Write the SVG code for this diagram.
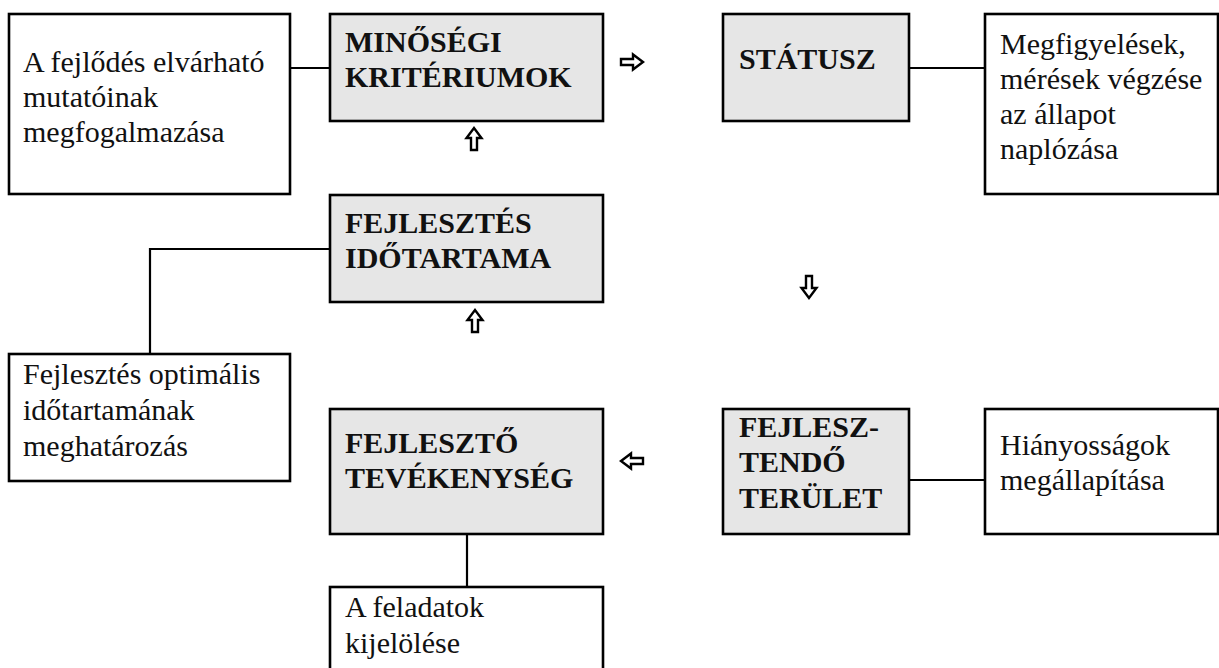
<svg xmlns="http://www.w3.org/2000/svg" width="1219" height="668" viewBox="0 0 1219 668">
<style>
.box{fill:#ffffff;stroke:#000;stroke-width:2.6}
.gbox{fill:#e6e6e6;stroke:#000;stroke-width:2.6}
.t{font-family:"Liberation Serif","Times New Roman",serif;font-size:30px;fill:#111}
.b{font-family:"Liberation Serif","Times New Roman",serif;font-size:30px;font-weight:bold;fill:#111}
.ln{fill:none;stroke:#000;stroke-width:2.2}
.ar{fill:#fff;stroke:#000;stroke-width:2.4;stroke-linejoin:miter}
</style>
<defs>
<path id="harrow" d="M-11,-3 H1 V-7.5 L11,0 L1,7.5 V3 H-11 Z"/>
</defs>
<rect width="1219" height="668" fill="#fff"/>
<g id="connectors">
<line class="ln" x1="290" y1="68" x2="330" y2="68"/>
<line class="ln" x1="909" y1="68" x2="985" y2="68"/>
<polyline class="ln" points="330,249 150,249 150,354"/>
<line class="ln" x1="467" y1="534" x2="467" y2="587"/>
<line class="ln" x1="909" y1="480" x2="985" y2="480"/>
<use href="#harrow" class="ar" transform="translate(632,62)"/>
<use href="#harrow" class="ar" transform="translate(474,139) rotate(-90)"/>
<use href="#harrow" class="ar" transform="translate(475,321) rotate(-90)"/>
<use href="#harrow" class="ar" transform="translate(809,287) rotate(90)"/>
<use href="#harrow" class="ar" transform="translate(632,461) rotate(180)"/>
</g>
<g id="node-fejlodes">
<rect class="box" x="9" y="14" width="281" height="180"/>
<text class="t" x="23" y="72">A fejlődés elvárható</text>
<text class="t" x="23" y="107">mutatóinak</text>
<text class="t" x="23" y="142">megfogalmazása</text>
</g>
<g id="node-minosegi">
<rect class="gbox" x="330" y="14" width="273" height="107"/>
<text class="b" x="345" y="52">MINŐSÉGI</text>
<text class="b" x="345" y="87">KRITÉRIUMOK</text>
</g>
<g id="node-statusz">
<rect class="gbox" x="723" y="14" width="186" height="107"/>
<text class="b" x="739" y="69">STÁTUSZ</text>
</g>
<g id="node-megfigyelesek">
<rect class="box" x="985" y="14" width="233" height="180"/>
<text class="t" x="1000" y="54">Megfigyelések,</text>
<text class="t" x="1000" y="89">mérések végzése</text>
<text class="t" x="1000" y="124">az állapot</text>
<text class="t" x="1000" y="159">naplózása</text>
</g>
<g id="node-idotartam">
<rect class="gbox" x="330" y="195" width="273" height="107"/>
<text class="b" x="345" y="233">FEJLESZTÉS</text>
<text class="b" x="345" y="268">IDŐTARTAMA</text>
</g>
<g id="node-optimalis">
<rect class="box" x="9" y="354" width="281" height="127"/>
<text class="t" x="23" y="384">Fejlesztés optimális</text>
<text class="t" x="23" y="420">időtartamának</text>
<text class="t" x="23" y="456">meghatározás</text>
</g>
<g id="node-tevekenyseg">
<rect class="gbox" x="330" y="409" width="273" height="125"/>
<text class="b" x="345" y="453">FEJLESZTŐ</text>
<text class="b" x="345" y="488">TEVÉKENYSÉG</text>
</g>
<g id="node-terulet">
<rect class="gbox" x="723" y="409" width="186" height="125"/>
<text class="b" x="739" y="437">FEJLESZ-</text>
<text class="b" x="739" y="472">TENDŐ</text>
<text class="b" x="739" y="508">TERÜLET</text>
</g>
<g id="node-hianyossagok">
<rect class="box" x="985" y="409" width="233" height="125"/>
<text class="t" x="1000" y="455">Hiányosságok</text>
<text class="t" x="1000" y="490">megállapítása</text>
</g>
<g id="node-feladatok">
<rect class="box" x="330" y="587" width="273" height="95"/>
<text class="t" x="345" y="617">A feladatok</text>
<text class="t" x="345" y="653">kijelölése</text>
</g>
</svg>
